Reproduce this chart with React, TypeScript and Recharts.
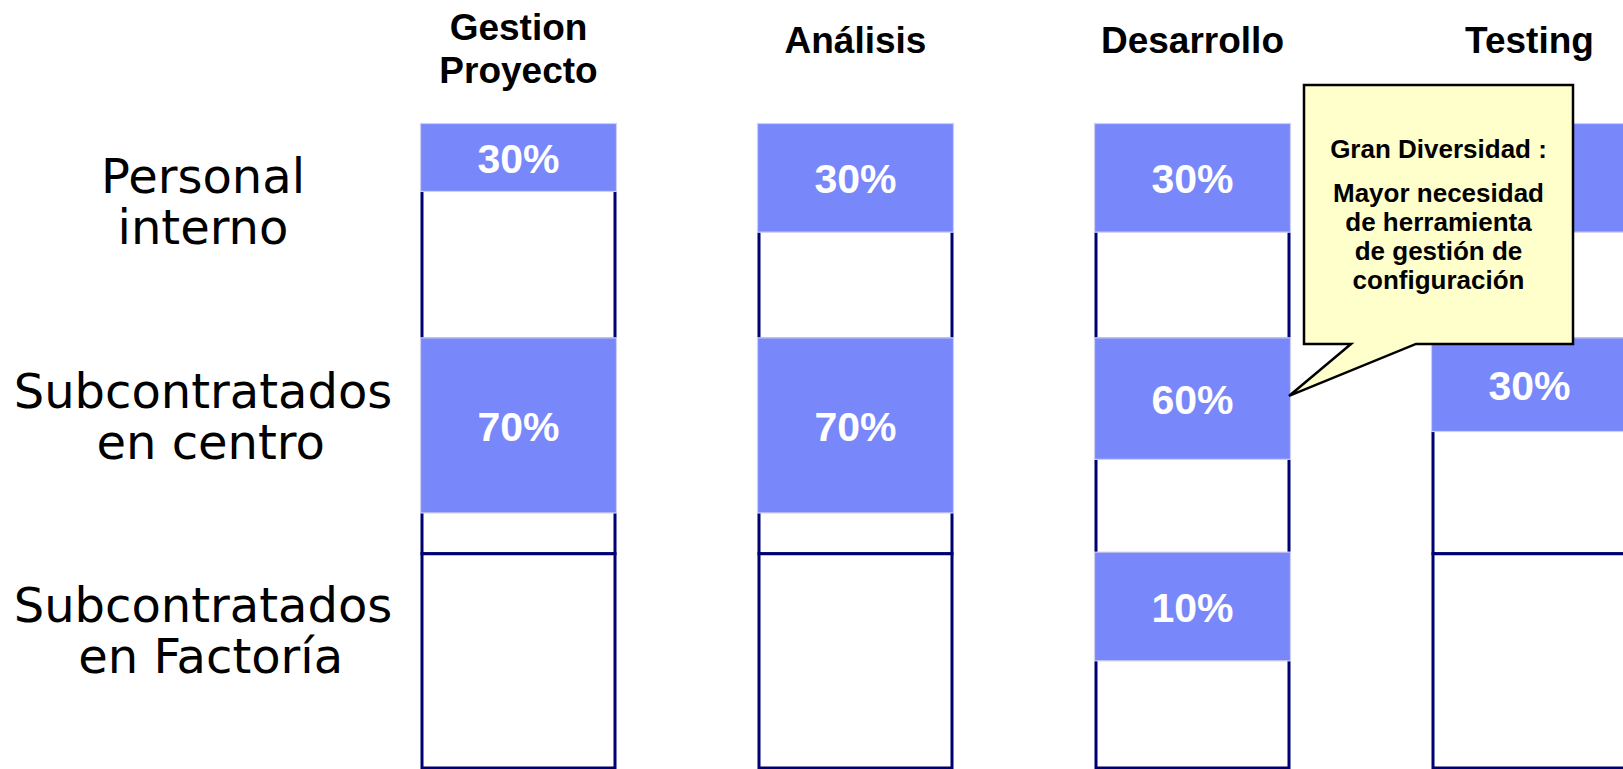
import React from "react";
import { BarChart, Bar, XAxis, YAxis, LabelList, ReferenceDot } from "recharts";

// ---- data ----
const categories = ["Gestion Proyecto", "Análisis", "Desarrollo", "Testing"];
const rowLabels = [
  ["Personal", "interno"],
  ["Subcontratados", " en centro"],
  ["Subcontratados", " en Factoría"],
];
const rowTicks = [0.5, 1.5, 2.5];
// Testing / Personal interno label is hidden behind the callout in the reference
const personalPct: (number | null)[] = [30, 30, 30, null];
const centroPct = [70, 70, 60, 30];
const factoriaPct: (number | null)[] = [null, null, 10, null];
const personalFill = [0.31, 0.5, 0.5, 0.5];
const centroFill = [0.81, 0.81, 0.56, 0.43];
const factoriaFill = [0, 0, 0.5, 0];
const calloutTitle = "Gran Diversidad :";
const calloutLines = ["Mayor necesidad", "de herramienta", "de gestión de", "configuración"];
const calloutCategory = "Desarrollo";
const calloutRow = 1.264;

// ---- styles ----
const W = 1698;
const H = 769;
const BAR = 193;
const NAVY = "#000070";
const FILL = "#7888FA";
const EDGE = "#CDD0F2";
const SANS = "'Liberation Sans', Arial, sans-serif";
const ROWFONT = "'DejaVu Sans', Verdana, sans-serif";

const data = categories.map((name, i) => ({
  name,
  u1: 1,
  u2: 1,
  u3: 1,
  r1: [0, personalFill[i]],
  r2: [1, 1 + centroFill[i]],
  r3: [2, 2 + factoriaFill[i]],
  l1: personalPct[i],
  l2: centroPct[i],
  l3: factoriaPct[i],
}));

const fmt = (v: any) => (v == null ? "" : `${v}%`);

const HeaderTick = (props: any) => {
  const { x, y, payload } = props;
  const words = String(payload.value).split(" ");
  const common = {
    textAnchor: "middle" as const,
    fontFamily: SANS,
    fontWeight: 700,
    fontSize: 37,
    fill: "#000",
  };
  if (words.length > 1) {
    return (
      <text {...common}>
        <tspan x={x} y={y - 85}>{words[0]}</tspan>
        <tspan x={x} y={y - 42}>{words.slice(1).join(" ")}</tspan>
      </text>
    );
  }
  return (
    <text {...common} x={x} y={y - 72}>
      {payload.value}
    </text>
  );
};

const RowTick = (props: any) => {
  const { x, y, index } = props;
  const lines = rowLabels[index] || [];
  const cx = x - 147;
  return (
    <text
      textAnchor="middle"
      fontFamily={ROWFONT}
      fontSize={48}
      fill="#000"
      style={{ whiteSpace: "pre" }}
    >
      {lines.map((l, i) => (
        <tspan key={i} x={cx} y={y - 39 + i * 51}>
          {l}
        </tspan>
      ))}
    </text>
  );
};

const FillShape = (props: any) => {
  const { x, y, width, height } = props;
  const top = Math.min(y, y + height);
  const h = Math.abs(height);
  if (!h) return <g />;
  return (
    <rect
      x={x - 1.5}
      y={top - 1.5}
      width={width + 3}
      height={h + 1.5}
      fill={FILL}
      stroke={EDGE}
      strokeWidth={1.2}
    />
  );
};

const CalloutShape = (props: any) => {
  const { cx, cy } = props;
  if (cx == null || cy == null) return <g />;
  const tipX = cx + BAR / 2;
  const tipY = cy;
  const left = tipX + 15;
  const top = tipY - 311;
  const w = 269;
  const h = 259;
  const bottom = top + h;
  const d = `M${left},${top} H${left + w} V${bottom} H${left + 112} L${tipX},${tipY} L${left + 47},${bottom} H${left} Z`;
  const mid = left + w / 2;
  const t = { textAnchor: "middle" as const, fontFamily: SANS, fontWeight: 700, fontSize: 26, fill: "#000" };
  return (
    <g>
      <path d={d} fill="#FFFFCC" stroke="#000" strokeWidth={2.5} strokeLinejoin="miter" />
      <text {...t} x={mid} y={top + 73}>{calloutTitle}</text>
      {calloutLines.map((l, i) => (
        <text key={i} {...t} x={mid} y={top + 117 + i * 29}>
          {l}
        </text>
      ))}
    </g>
  );
};

export default function App() {
  return (
    <div
      style={{
        position: "absolute",
        left: 0,
        top: 0,
        width: 1623,
        height: 769,
        overflow: "hidden",
        background: "#fff",
      }}
    >
      <BarChart width={W} height={H} data={data} margin={{ top: 0, right: 0, left: 0, bottom: 1 }}>
        <XAxis
          xAxisId="cells"
          dataKey="name"
          orientation="top"
          height={125}
          axisLine={false}
          tickLine={false}
          tickSize={0}
          tickMargin={0}
          interval={0}
          tick={<HeaderTick />}
        />
        <XAxis xAxisId="r1" dataKey="name" hide />
        <XAxis xAxisId="r2" dataKey="name" hide />
        <XAxis xAxisId="r3" dataKey="name" hide />
        <YAxis
          type="number"
          domain={[0, 3]}
          reversed
          ticks={rowTicks}
          width={350}
          axisLine={false}
          tickLine={false}
          tickSize={0}
          tickMargin={0}
          interval={0}
          tick={<RowTick />}
        />
        <Bar xAxisId="cells" dataKey="u1" stackId="grid" barSize={BAR} fill="#fff" stroke={NAVY} strokeWidth={3} isAnimationActive={false} />
        <Bar xAxisId="cells" dataKey="u2" stackId="grid" barSize={BAR} fill="#fff" stroke={NAVY} strokeWidth={3} isAnimationActive={false} />
        <Bar xAxisId="cells" dataKey="u3" stackId="grid" barSize={BAR} fill="#fff" stroke={NAVY} strokeWidth={3} isAnimationActive={false} />
        <Bar xAxisId="r1" dataKey="r1" barSize={BAR} shape={FillShape} isAnimationActive={false}>
          <LabelList dataKey="l1" position="center" formatter={fmt} fill="#fff" fontSize={41} fontWeight={700} fontFamily={SANS} />
        </Bar>
        <Bar xAxisId="r2" dataKey="r2" barSize={BAR} shape={FillShape} isAnimationActive={false}>
          <LabelList dataKey="l2" position="center" formatter={fmt} fill="#fff" fontSize={41} fontWeight={700} fontFamily={SANS} />
        </Bar>
        <Bar xAxisId="r3" dataKey="r3" barSize={BAR} shape={FillShape} isAnimationActive={false}>
          <LabelList dataKey="l3" position="center" formatter={fmt} fill="#fff" fontSize={41} fontWeight={700} fontFamily={SANS} />
        </Bar>
        <ReferenceDot
          xAxisId="cells"
          x={calloutCategory}
          y={calloutRow}
          r={0}
          ifOverflow="visible"
          shape={CalloutShape}
          {...({ zIndex: 5000 } as any)}
        />
      </BarChart>
    </div>
  );
}
